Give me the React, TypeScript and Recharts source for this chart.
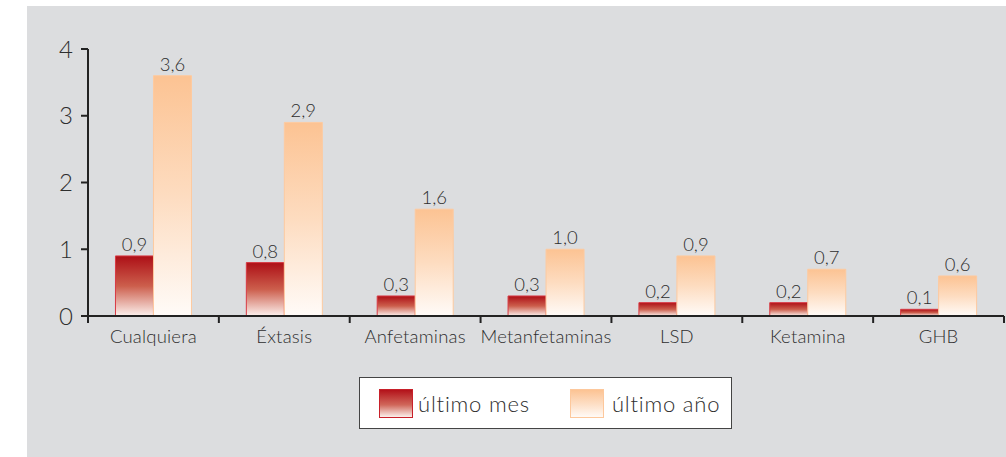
import { BarChart, Bar, XAxis, YAxis, LabelList } from 'recharts'

const categorias = ['Cualquiera', 'Éxtasis', 'Anfetaminas', 'Metanfetaminas', 'LSD', 'Ketamina', 'GHB']
const ultimoMes = [0.9, 0.8, 0.3, 0.3, 0.2, 0.2, 0.1]
const ultimoAnio = [3.6, 2.9, 1.6, 1.0, 0.9, 0.7, 0.6]
const yTicks = [0, 1, 2, 3, 4]

const data = categorias.map((c, i) => ({ name: c, mes: ultimoMes[i], anio: ultimoAnio[i] }))

const FONT = 'Lato, sans-serif'
const WEIGHT = 300
const TEXT = '#2e2e2e'
const PLOT_W = 916
const BAND = PLOT_W / categorias.length

const fmt = (v: any) => Number(v).toFixed(1).replace('.', ',')

function CatTick(props: any) {
  const { x, y, payload, index } = props
  const left = x - BAND / 2
  return (
    <g>
      <line x1={left} y1={y} x2={left} y2={y + 7} stroke="#222" strokeWidth={2} />
      {index === categorias.length - 1 && (
        <line x1={x + BAND / 2} y1={y} x2={x + BAND / 2} y2={y + 7} stroke="#222" strokeWidth={2} />
      )}
      <text
        x={x}
        y={y + 27}
        textAnchor="middle"
        fill={TEXT}
        fontSize={18.5}
        fontFamily={FONT}
        fontWeight={WEIGHT}
        letterSpacing={0.2}
      >
        {payload.value}
      </text>
    </g>
  )
}

function Swatch({ kind }: { kind: 'mes' | 'anio' }) {
  const bg =
    kind === 'mes'
      ? 'linear-gradient(#b3121a, #d0675a 55%, #fbf0ec)'
      : 'linear-gradient(#fcc393, #fde0c8 55%, #fffaf6)'
  const border = kind === 'mes' ? '#c8202a' : '#fdc89c'
  return <div style={{ width: 32, height: 27, background: bg, border: `1px solid ${border}` }} />
}

export default function App() {
  return (
    <div style={{ position: 'absolute', left: 0, top: 0, width: 1006, height: 457, background: '#fff', fontFamily: FONT, fontWeight: WEIGHT }}>
      <style>{'body{margin:0}'}</style>
      <div style={{ position: 'absolute', left: 27, top: 6, right: 0, bottom: 0, background: '#dcdddf' }} />
      <div style={{ position: 'absolute', left: 0, top: 0 }}>
        <BarChart
          width={1006}
          height={457}
          data={data}
          margin={{ top: 49, right: 2, bottom: 101, left: 28 }}
          barCategoryGap="21%"
          barGap={0}
        >
          <defs>
            <linearGradient id="gMes" x1="0" y1="0" x2="0" y2="1">
              <stop offset="0%" stopColor="#ad0f16" />
              <stop offset="50%" stopColor="#cc5e4c" />
              <stop offset="100%" stopColor="#fcf1ee" />
            </linearGradient>
            <linearGradient id="gAnio" x1="0" y1="0" x2="0" y2="1">
              <stop offset="0%" stopColor="#fcc393" />
              <stop offset="50%" stopColor="#fddcc0" />
              <stop offset="100%" stopColor="#fffbf8" />
            </linearGradient>
          </defs>
          <XAxis
            dataKey="name"
            axisLine={{ stroke: '#222', strokeWidth: 2 }}
            tickLine={false}
            tickSize={0}
            tickMargin={0}
            height={40}
            interval={0}
            tick={<CatTick />}
          />
          <YAxis
            domain={[0, 4]}
            ticks={yTicks}
            width={60}
            axisLine={{ stroke: '#222', strokeWidth: 2 }}
            tickLine={{ stroke: '#222', strokeWidth: 2 }}
            tickSize={7}
            tickMargin={8}
            tick={{ fill: TEXT, fontSize: 24, fontFamily: FONT, fontWeight: WEIGHT }}
          />
          <Bar dataKey="mes" fill="url(#gMes)" stroke="#d83a44" strokeWidth={1} isAnimationActive={false}>
            <LabelList dataKey="mes" position="top" offset={5} formatter={fmt} fill={TEXT} fontSize={18.5} fontFamily={FONT} fontWeight={WEIGHT} />
          </Bar>
          <Bar dataKey="anio" fill="url(#gAnio)" stroke="#fdcaa0" strokeWidth={1} isAnimationActive={false}>
            <LabelList dataKey="anio" position="top" offset={5} formatter={fmt} fill={TEXT} fontSize={18.5} fontFamily={FONT} fontWeight={WEIGHT} />
          </Bar>
        </BarChart>
      </div>
      <div
        style={{
          position: 'absolute',
          left: 359,
          top: 377,
          width: 371,
          height: 50,
          background: '#fff',
          border: '1.5px solid #444',
          display: 'flex',
          alignItems: 'center',
          fontSize: 22,
          letterSpacing: 0.8,
          color: TEXT,
        }}
      >
        <div style={{ marginLeft: 19 }}><Swatch kind="mes" /></div>
        <span style={{ marginLeft: 5 }}>último mes</span>
        <div style={{ marginLeft: 40 }}><Swatch kind="anio" /></div>
        <span style={{ marginLeft: 8 }}>último año</span>
      </div>
    </div>
  )
}
